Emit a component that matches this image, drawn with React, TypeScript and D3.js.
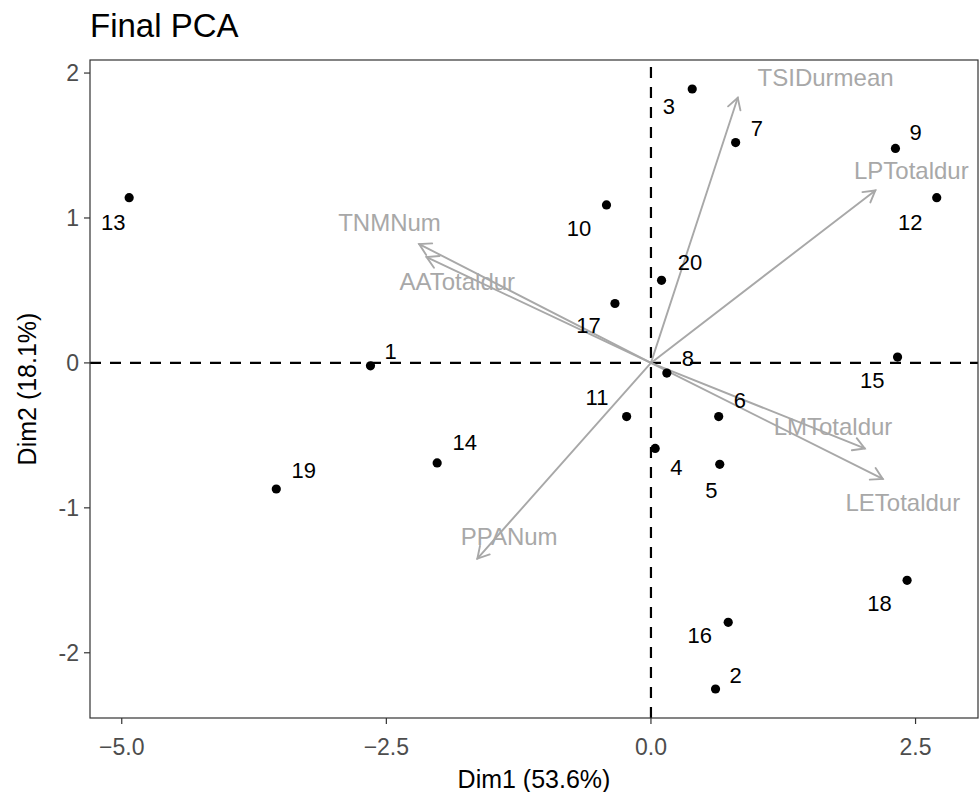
import React from "react";
import * as d3 from "d3";

// Individuals (PCA scores)
const pointIds = ["1","2","3","4","5","6","7","8","9","10","11","12","13","14","15","16","17","18","19","20"];
const dim1 = [-2.65, 0.61, 0.39, 0.04, 0.65, 0.64, 0.80, 0.15, 2.31, -0.42, -0.23, 2.70, -4.93, -2.02, 2.33, 0.73, -0.34, 2.42, -3.54, 0.10];
const dim2 = [-0.02, -2.25, 1.89, -0.59, -0.70, -0.37, 1.52, -0.07, 1.48, 1.09, -0.37, 1.14, 1.14, -0.69, 0.04, -1.79, 0.41, -1.50, -0.87, 0.57];
// Repelled label positions (data units)
const pointLabelX = [-2.46, 0.80, 0.17, 0.24, 0.57, 0.84, 1.00, 0.35, 2.50, -0.68, -0.51, 2.45, -5.08, -1.76, 2.09, 0.46, -0.59, 2.16, -3.28, 0.37];
const pointLabelY = [0.08, -2.16, 1.77, -0.72, -0.88, -0.26, 1.62, 0.03, 1.59, 0.93, -0.24, 0.97, 0.97, -0.55, -0.12, -1.88, 0.26, -1.66, -0.74, 0.69];

// Variables (arrows)
const varNames = ["TSIDurmean", "LPTotaldur", "TNMNum", "AATotaldur", "LMTotaldur", "LETotaldur", "PPANum"];
const varX = [0.82, 2.12, -2.19, -2.12, 2.02, 2.19, -1.64];
const varY = [1.83, 1.19, 0.82, 0.73, -0.59, -0.80, -1.35];
const varLabelX = [1.65, 2.46, -2.47, -1.83, 1.72, 2.38, -1.34];
const varLabelY = [1.97, 1.33, 0.97, 0.56, -0.44, -0.96, -1.20];

const xTicks = [-5, -2.5, 0, 2.5];
const yTicks = [-2, -1, 0, 1, 2];
const xDomain = [-5.30, 3.09];
const yDomain = [-2.45, 2.09];

const title = "Final PCA";
const xTitle = "Dim1 (53.6%)";
const yTitle = "Dim2 (18.1%)";

export default function App() {
  const W = 979, H = 792;
  const left = 90, right = 978, top = 60, bottom = 718;
  const x = d3.scaleLinear().domain(xDomain).range([left, right]);
  const y = d3.scaleLinear().domain(yDomain).range([bottom, top]);
  const font = "'Liberation Sans', Arial, sans-serif";
  const grey = "#a8a8a8";
  const headLen = 13;
  const headAng = Math.PI / 6;

  return (
    <svg width={W} height={H} style={{ position: "absolute", left: 0, top: 0, background: "#fff" }} fontFamily={font}>
      <rect x={0} y={0} width={W} height={H} fill="#fff" />
      <text x={left} y={37} fontSize={33} fill="#000">{title}</text>

      {/* reference lines */}
      <line x1={left} x2={right} y1={y(0)} y2={y(0)} stroke="#000" strokeWidth={2.2} strokeDasharray="11,9" />
      <line x1={x(0)} x2={x(0)} y1={bottom} y2={top} stroke="#000" strokeWidth={2.2} strokeDasharray="11,9" />

      {/* arrows */}
      {varNames.map((n, i) => {
        const x0 = x(0), y0 = y(0);
        const x1 = x(varX[i]), y1 = y(varY[i]);
        const a = Math.atan2(y1 - y0, x1 - x0);
        const b1x = x1 - headLen * Math.cos(a - headAng), b1y = y1 - headLen * Math.sin(a - headAng);
        const b2x = x1 - headLen * Math.cos(a + headAng), b2y = y1 - headLen * Math.sin(a + headAng);
        return (
          <g key={n} stroke={grey} strokeWidth={1.9} fill="none" strokeLinecap="round">
            <line x1={x0} y1={y0} x2={x1} y2={y1} />
            <polyline points={`${b1x},${b1y} ${x1},${y1} ${b2x},${b2y}`} />
          </g>
        );
      })}

      {/* points */}
      {pointIds.map((id, i) => (
        <circle key={id} cx={x(dim1[i])} cy={y(dim2[i])} r={4.6} fill="#000" />
      ))}
      {pointIds.map((id, i) => (
        <text key={"l" + id} x={x(pointLabelX[i])} y={y(pointLabelY[i])} fontSize={22} fill="#000"
          textAnchor="middle" dominantBaseline="central">{id}</text>
      ))}
      {varNames.map((n, i) => (
        <text key={"v" + n} x={x(varLabelX[i])} y={y(varLabelY[i])} fontSize={24} fill={grey}
          textAnchor="middle" dominantBaseline="central">{n}</text>
      ))}

      {/* panel border */}
      <rect x={left} y={top} width={right - left} height={bottom - top} fill="none" stroke="#333" strokeWidth={1.2} />

      {/* x axis */}
      {xTicks.map(t => (
        <g key={"xt" + t}>
          <line x1={x(t)} x2={x(t)} y1={bottom} y2={bottom + 6} stroke="#333" strokeWidth={1.2} />
          <text x={x(t)} y={755} fontSize={23} fill="#4d4d4d" textAnchor="middle">{d3.format(".1f")(t)}</text>
        </g>
      ))}
      {/* y axis */}
      {yTicks.map(t => (
        <g key={"yt" + t}>
          <line x1={left - 6} x2={left} y1={y(t)} y2={y(t)} stroke="#333" strokeWidth={1.2} />
          <text x={left - 11} y={y(t)} fontSize={23} fill="#4d4d4d" textAnchor="end" dominantBaseline="central">{t}</text>
        </g>
      ))}

      <text x={(left + right) / 2} y={788} fontSize={25} fill="#000" textAnchor="middle">{xTitle}</text>
      <text transform={`translate(36,${(top + bottom) / 2}) rotate(-90)`} fontSize={25} fill="#000" textAnchor="middle">{yTitle}</text>
    </svg>
  );
}
